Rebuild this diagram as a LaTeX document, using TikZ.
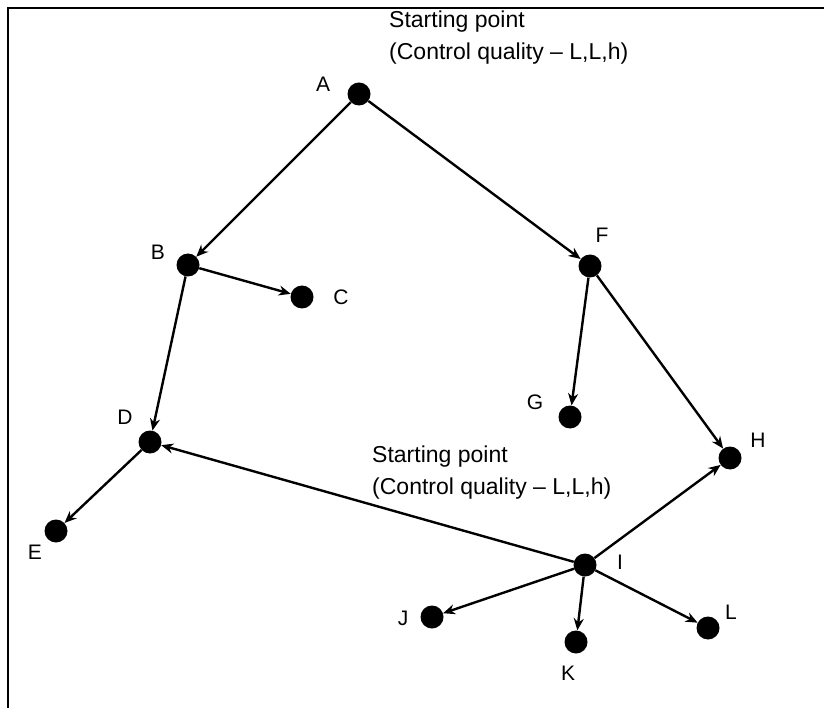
\documentclass[tikz,border=0pt]{standalone}
\usepackage{fontspec}
\setmainfont{Liberation Sans}
\usetikzlibrary{arrows.meta}

\begin{document}
\begin{tikzpicture}[x=1pt, y=-1pt,
every node/.style = {font=\fontsize{21}{32}\selectfont},
dot/.style = {circle, fill, inner sep=0pt, minimum size=23pt},
lbl/.style = {inner sep=0pt},
note/.style = {inner sep=0pt, align=left, anchor=base west,
    font=\fontsize{23}{32}\selectfont},
link/.style = {line width=2.4pt, -{Stealth[length=12pt, width=10pt]}}]
\useasboundingbox (0,0) rectangle (824,708);
\draw[line width=2.8pt] (8,708) -- (8,8) -- (824,8);
\node[dot] (A) at (359,94) {};
\node[dot] (B) at (188,265) {};
\node[dot] (C) at (302,297) {};
\node[dot] (D) at (150,442) {};
\node[dot] (E) at (56,531) {};
\node[dot] (F) at (590,266) {};
\node[dot] (G) at (570,417) {};
\node[dot] (H) at (730,458) {};
\node[dot] (I) at (585,565) {};
\node[dot] (J) at (432,617) {};
\node[dot] (K) at (576,642) {};
\node[dot] (L) at (708,628) {};
\node[lbl] (labA) at (323,84) {A};
\node[lbl] (labB) at (158,252) {B};
\node[lbl] (labC) at (341,297) {C};
\node[lbl] (labD) at (125,417) {D};
\node[lbl] (labE) at (35,552) {E};
\node[lbl] (labF) at (602,235) {F};
\node[lbl] (labG) at (535,402) {G};
\node[lbl] (labH) at (758,440) {H};
\node[lbl] (labI) at (620,562) {I};
\node[lbl] (labJ) at (403,618) {J};
\node[lbl] (labK) at (568,673) {K};
\node[lbl] (labL) at (731,612) {L};
\node[note] (startA) at (389,60) {Starting point\\(Control quality -- L,L,h)};
\node[note] (startI) at (372,494) {Starting point\\(Control quality -- L,L,h)};
\draw[link] (A) -- (B);
\draw[link] (A) -- (F);
\draw[link] (B) -- (C);
\draw[link] (B) -- (D);
\draw[link] (D) -- (E);
\draw[link] (F) -- (G);
\draw[link] (F) -- (H);
\draw[link] (I) -- (D);
\draw[link] (I) -- (H);
\draw[link] (I) -- (J);
\draw[link] (I) -- (K);
\draw[link] (I) -- (L);
\end{tikzpicture}
\end{document}
